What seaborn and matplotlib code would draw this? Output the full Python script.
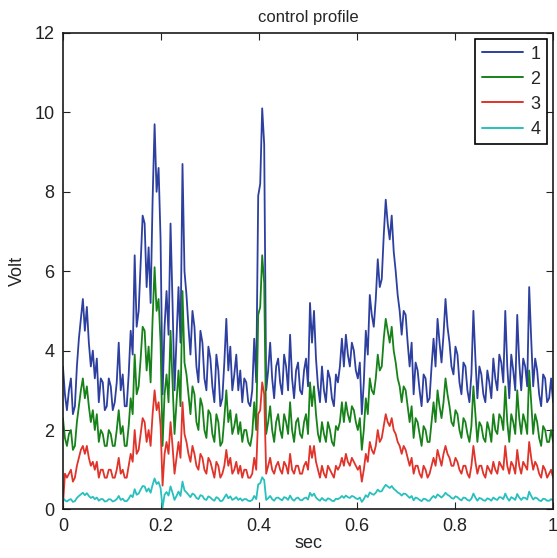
import numpy as np
import pandas as pd
import matplotlib
matplotlib.use("Agg")
import matplotlib.pyplot as plt
import seaborn as sns

s1 = [3.6, 2.9, 2.5, 3.0, 3.3, 2.4, 2.6, 3.6, 4.3, 4.8,
      5.3, 4.5, 5.1, 4.2, 3.6, 4.0, 3.3, 3.8, 2.7, 3.3,
      3.2, 2.5, 2.6, 3.3, 3.1, 2.5, 2.7, 3.2, 4.2, 3.0,
      3.4, 2.6, 2.6, 3.4, 4.5, 3.9, 6.4, 4.6, 5.0, 6.2,
      7.4, 7.2, 5.6, 6.6, 5.2, 7.8, 9.7, 8.0, 8.6, 6.8,
      2.9, 4.6, 5.5, 4.4, 7.2, 5.2, 3.0, 4.3, 5.6, 4.2,
      8.7, 6.0, 5.4, 4.6, 3.9, 5.0, 4.6, 3.6, 3.2, 4.5,
      4.2, 3.3, 3.0, 4.1, 3.8, 3.1, 2.7, 3.9, 3.5, 2.6,
      2.8, 3.7, 4.8, 3.5, 4.1, 3.0, 3.4, 3.9, 3.0, 3.5,
      2.7, 3.3, 3.2, 2.7, 2.6, 3.0, 4.3, 3.2, 7.9, 8.2,
      10.1, 9.2, 3.0, 3.5, 4.2, 3.3, 2.8, 3.6, 3.8, 3.2,
      2.9, 3.9, 3.6, 3.0, 4.4, 3.3, 2.8, 3.5, 3.7, 3.0,
      2.9, 3.5, 3.8, 3.1, 5.2, 4.2, 5.0, 3.8, 3.1, 2.7,
      3.6, 3.0, 2.7, 3.5, 3.3, 2.8, 2.6, 3.4, 3.2, 3.6,
      4.3, 3.6, 4.4, 3.9, 3.6, 4.2, 4.0, 3.5, 3.3, 3.7,
      2.4, 3.2, 4.5, 3.9, 5.4, 4.9, 4.6, 5.3, 6.3, 5.6,
      5.8, 6.9, 7.8, 7.2, 6.8, 7.4, 6.5, 6.0, 5.4, 5.0,
      4.4, 5.0, 4.9, 4.2, 3.6, 4.2, 2.9, 3.7, 3.5, 3.0,
      2.6, 3.4, 3.3, 2.7, 2.8, 3.6, 4.3, 3.6, 4.8, 4.2,
      3.7, 4.4, 5.3, 4.6, 4.2, 3.6, 3.4, 4.1, 3.9, 3.2,
      2.9, 3.7, 3.6, 3.0, 2.7, 3.4, 5.0, 3.8, 2.8, 3.6,
      3.4, 2.9, 2.7, 3.5, 3.2, 2.8, 3.8, 3.3, 3.0, 3.9,
      3.7, 3.2, 5.0, 3.6, 2.8, 3.9, 3.5, 3.0, 4.9, 3.7,
      3.0, 3.8, 3.6, 3.1, 5.6, 4.3, 3.1, 3.8, 3.5, 2.9,
      2.6, 3.4, 3.3, 2.7, 2.8, 3.3, 2.7]
s2 = [2.3, 1.8, 1.6, 1.9, 2.0, 1.5, 1.6, 2.2, 2.6, 3.0,
      3.3, 2.8, 3.1, 2.6, 2.2, 2.5, 2.0, 2.4, 1.7, 2.0,
      1.9, 1.6, 1.6, 2.0, 1.9, 1.6, 1.6, 2.0, 2.5, 1.9,
      2.1, 1.6, 1.6, 2.1, 2.8, 2.4, 3.9, 2.9, 3.1, 3.8,
      4.6, 4.5, 3.5, 4.1, 3.2, 4.8, 6.1, 5.0, 5.3, 4.2,
      1.6, 2.9, 3.4, 2.7, 4.5, 3.2, 1.9, 2.7, 3.5, 2.6,
      5.5, 3.7, 3.4, 2.9, 2.4, 3.1, 2.9, 2.2, 2.0, 2.8,
      2.6, 2.0, 1.8, 2.5, 2.4, 1.9, 1.7, 2.4, 2.2, 1.6,
      1.7, 2.3, 3.0, 2.2, 2.5, 1.9, 2.1, 2.4, 1.9, 2.2,
      1.7, 2.0, 2.0, 1.7, 1.6, 1.9, 2.7, 2.0, 4.9, 5.1,
      6.4, 5.7, 1.9, 2.2, 2.6, 2.0, 1.7, 2.2, 2.4, 2.0,
      1.8, 2.4, 2.2, 1.9, 2.7, 2.0, 1.7, 2.2, 2.3, 1.9,
      1.8, 2.2, 2.4, 1.9, 3.2, 2.6, 3.1, 2.4, 1.9, 1.7,
      2.2, 1.9, 1.7, 2.2, 2.0, 1.7, 1.6, 2.1, 2.0, 2.2,
      2.7, 2.2, 2.7, 2.4, 2.2, 2.6, 2.5, 2.2, 2.0, 2.3,
      1.5, 2.0, 2.8, 2.4, 3.3, 3.0, 2.9, 3.3, 3.9, 3.5,
      3.6, 4.3, 4.8, 4.5, 4.2, 4.6, 4.0, 3.7, 3.3, 3.1,
      2.7, 3.1, 3.0, 2.6, 2.2, 2.6, 1.8, 2.3, 2.2, 1.9,
      1.6, 2.1, 2.0, 1.7, 1.7, 2.2, 2.7, 2.2, 3.0, 2.6,
      2.3, 2.7, 3.3, 2.9, 2.6, 2.2, 2.1, 2.5, 2.4, 2.0,
      1.8, 2.3, 2.2, 1.9, 1.7, 2.1, 3.1, 2.4, 1.7, 2.2,
      2.1, 1.8, 1.7, 2.2, 2.0, 1.7, 2.4, 2.0, 1.9, 2.4,
      2.3, 2.0, 3.1, 2.2, 1.7, 2.4, 2.2, 1.9, 3.0, 2.3,
      1.9, 2.4, 2.2, 1.9, 3.5, 2.7, 1.9, 2.4, 2.2, 1.8,
      1.6, 2.1, 2.0, 1.7, 1.7, 2.0, 1.7]
s3 = [0.1, 0.9, 0.8, 0.9, 1.0, 0.7, 0.8, 1.1, 1.3, 1.5,
      1.6, 1.4, 1.6, 1.3, 1.1, 1.2, 1.0, 1.2, 0.8, 1.0,
      1.0, 0.8, 0.8, 1.0, 1.0, 0.8, 0.8, 1.0, 1.3, 0.9,
      1.0, 0.8, 0.8, 1.1, 1.4, 1.2, 2.0, 1.4, 1.5, 1.9,
      2.3, 2.2, 1.7, 2.0, 1.6, 2.4, 3.0, 2.5, 2.7, 2.1,
      0.6, 1.4, 1.7, 1.4, 2.2, 1.6, 0.9, 1.3, 1.7, 1.3,
      2.7, 1.9, 1.7, 1.4, 1.2, 1.6, 1.4, 1.1, 1.0, 1.4,
      1.3, 1.0, 0.9, 1.3, 1.2, 1.0, 0.8, 1.2, 1.1, 0.8,
      0.9, 1.1, 1.5, 1.1, 1.3, 0.9, 1.0, 1.2, 0.9, 1.1,
      0.8, 1.0, 1.0, 0.8, 0.8, 0.9, 1.3, 1.0, 2.4, 2.5,
      3.2, 2.9, 0.9, 1.1, 1.3, 1.0, 0.9, 1.1, 1.2, 1.0,
      0.9, 1.2, 1.1, 0.9, 1.4, 1.0, 0.9, 1.1, 1.1, 0.9,
      0.9, 1.1, 1.2, 1.0, 1.6, 1.3, 1.6, 1.2, 1.0, 0.8,
      1.1, 0.9, 0.8, 1.1, 1.0, 0.9, 0.8, 1.1, 1.0, 1.1,
      1.3, 1.1, 1.4, 1.2, 1.1, 1.3, 1.2, 1.1, 1.0, 1.1,
      0.7, 1.0, 1.4, 1.2, 1.7, 1.5, 1.4, 1.6, 2.0, 1.7,
      1.8, 2.1, 2.4, 2.2, 2.1, 2.3, 2.0, 1.9, 1.7, 1.6,
      1.4, 1.6, 1.5, 1.3, 1.1, 1.3, 0.9, 1.1, 1.1, 0.9,
      0.8, 1.1, 1.0, 0.8, 0.9, 1.1, 1.3, 1.1, 1.5, 1.3,
      1.1, 1.4, 1.6, 1.4, 1.3, 1.1, 1.1, 1.3, 1.2, 1.0,
      0.9, 1.1, 1.1, 0.9, 0.8, 1.1, 1.6, 1.2, 0.9, 1.1,
      1.1, 0.9, 0.8, 1.1, 1.0, 0.9, 1.2, 1.0, 0.9, 1.2,
      1.1, 1.0, 1.6, 1.1, 0.9, 1.2, 1.1, 0.9, 1.5, 1.1,
      0.9, 1.2, 1.1, 1.0, 1.7, 1.3, 1.0, 1.2, 1.1, 0.9,
      0.8, 1.1, 1.0, 0.8, 0.9, 1.0, 0.8]
s4 = [0.29, 0.23, 0.20, 0.24, 0.26, 0.19, 0.21, 0.29, 0.34, 0.38,
      0.42, 0.36, 0.41, 0.34, 0.29, 0.32, 0.26, 0.30, 0.22, 0.26,
      0.26, 0.20, 0.21, 0.26, 0.25, 0.20, 0.22, 0.26, 0.34, 0.24,
      0.27, 0.21, 0.21, 0.27, 0.36, 0.31, 0.51, 0.37, 0.40, 0.50,
      0.59, 0.58, 0.45, 0.53, 0.42, 0.62, 0.78, 0.64, 0.69, 0.54,
      0.05, 0.37, 0.44, 0.35, 0.58, 0.42, 0.24, 0.34, 0.45, 0.34,
      0.70, 0.48, 0.43, 0.37, 0.31, 0.40, 0.37, 0.29, 0.26, 0.36,
      0.34, 0.26, 0.24, 0.33, 0.30, 0.25, 0.22, 0.31, 0.28, 0.21,
      0.22, 0.30, 0.38, 0.28, 0.33, 0.24, 0.27, 0.31, 0.24, 0.28,
      0.22, 0.26, 0.26, 0.22, 0.21, 0.24, 0.34, 0.26, 0.63, 0.66,
      0.81, 0.74, 0.24, 0.28, 0.34, 0.26, 0.22, 0.29, 0.30, 0.26,
      0.23, 0.31, 0.29, 0.24, 0.35, 0.26, 0.22, 0.28, 0.30, 0.24,
      0.23, 0.28, 0.30, 0.25, 0.42, 0.34, 0.40, 0.30, 0.25, 0.22,
      0.29, 0.24, 0.22, 0.28, 0.26, 0.22, 0.21, 0.27, 0.26, 0.29,
      0.34, 0.29, 0.35, 0.31, 0.29, 0.34, 0.32, 0.28, 0.26, 0.30,
      0.19, 0.26, 0.36, 0.31, 0.43, 0.39, 0.37, 0.42, 0.50, 0.45,
      0.46, 0.55, 0.62, 0.58, 0.54, 0.59, 0.52, 0.48, 0.43, 0.40,
      0.35, 0.40, 0.39, 0.34, 0.29, 0.34, 0.23, 0.30, 0.28, 0.24,
      0.21, 0.27, 0.26, 0.22, 0.22, 0.29, 0.34, 0.29, 0.38, 0.34,
      0.30, 0.35, 0.42, 0.37, 0.34, 0.29, 0.27, 0.33, 0.31, 0.26,
      0.23, 0.30, 0.29, 0.24, 0.22, 0.27, 0.40, 0.30, 0.22, 0.29,
      0.27, 0.23, 0.22, 0.28, 0.26, 0.22, 0.30, 0.26, 0.24, 0.31,
      0.30, 0.26, 0.40, 0.29, 0.22, 0.31, 0.28, 0.24, 0.39, 0.30,
      0.24, 0.30, 0.29, 0.25, 0.45, 0.34, 0.25, 0.30, 0.28, 0.23,
      0.21, 0.27, 0.26, 0.22, 0.22, 0.26, 0.22]
series_names = ["1", "2", "3", "4"]
colors = ["#2d3f9f", "#168219", "#e0332a", "#27c0be"]
x_ticks = [0, 0.2, 0.4, 0.6, 0.8, 1]
x_ticklabels = ["0", "0.2", "0.4", "0.6", "0.8", "1"]
y_ticks = [0, 2, 4, 6, 8, 10, 12]

t = np.linspace(0, 1, len(s1))
df = pd.concat([
    pd.DataFrame({"sec": t, "Volt": v, "series": name})
    for name, v in zip(series_names, [s1, s2, s3, s4])
], ignore_index=True)

sns.set_style("ticks")
plt.rcParams["font.family"] = ["Liberation Sans", "DejaVu Sans"]

fig = plt.figure(figsize=(5.57, 5.58), dpi=100)
ax = fig.add_axes([0.113, 0.087, 0.880, 0.854])
sns.lineplot(data=df, x="sec", y="Volt", hue="series", palette=colors,
             linewidth=1.3, ax=ax, estimator=None, sort=False)

ax.set_xlim(0, 1)
ax.set_ylim(0, 12)
ax.set_xticks(x_ticks)
ax.set_xticklabels(x_ticklabels)
ax.set_yticks(y_ticks)
ax.tick_params(direction="in", length=5, width=0.8, labelsize=13,
               top=True, right=True, colors="#222222", pad=6)
for sp in ax.spines.values():
    sp.set_visible(True)
    sp.set_linewidth(1.2)
    sp.set_color("#1a1a1a")
ax.set_title("control profile", fontsize=12, pad=8)
ax.set_xlabel("sec", fontsize=13, labelpad=0)
ax.set_ylabel("Volt", fontsize=13, labelpad=6)

leg = ax.legend(loc="upper right", fontsize=13, handlelength=2.3,
                handletextpad=0.4, borderpad=0.35, labelspacing=0.45,
                fancybox=False, framealpha=1, edgecolor="black",
                borderaxespad=0.35)
leg.get_frame().set_linewidth(1.2)
for line in leg.get_lines():
    line.set_linewidth(1.4)

fig.savefig("out.png", dpi=100)
